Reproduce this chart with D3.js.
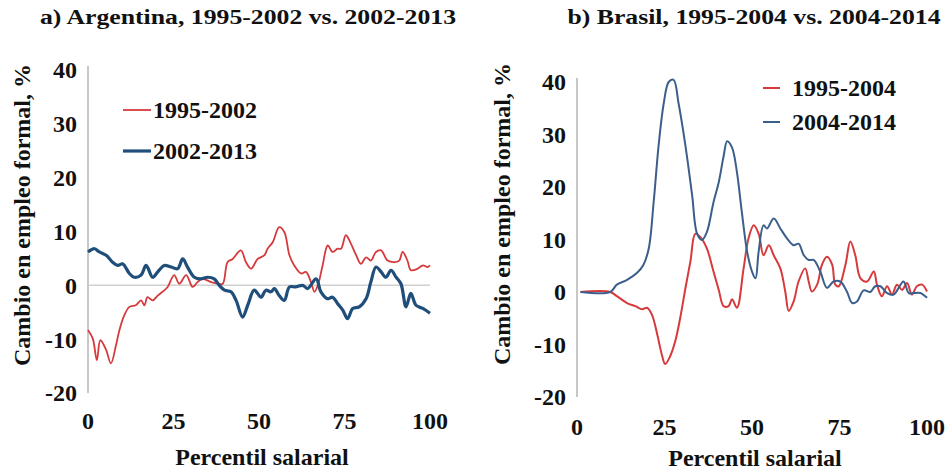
<!DOCTYPE html>
<html>
<head>
<meta charset="utf-8">
<script src="https://cdnjs.cloudflare.com/ajax/libs/d3/7.8.5/d3.min.js"></script>
<style>
  body{ margin:0; background:#fff; }
  svg text{ font-family:"Liberation Serif","Times New Roman",serif; font-weight:bold; fill:#111; }
</style>
</head>
<body>
<svg id="chart" width="950" height="470"></svg>
<script>
// percentile, change in formal employment (%)
var argPct1 = [0,1.4,2.6,3.6,5.3,6.7,8.2,9.2,10.6,12.1,14,15.5,16.5,17.4,18.9,20.4,21.8,23.3,25.2,26.7,28.7,30.6,32,33.5,36,37.9,39.4,40.8,42.3,44.7,46.2,47.7,49.6,51.6,52.5,54,55.9,57.4,58.9,60.3,62.3,63.7,65.2,66.2,67.2,68.6,70.1,71.5,73,74,75.4,76.9,78.4,79.8,81.3,82.7,84.2,85.7,87.6,89.6,91,92,93.4,94.4,96.4,97.9,99.3,100]
var arg9502 = [-8.3,-9.9,-13.9,-10.2,-12,-14.5,-11.1,-8.3,-5.6,-4,-3.7,-2.8,-3.7,-2.2,-2.8,-1.9,-1.2,-0.3,1.9,0.3,1.9,-0.3,0.6,1.2,0.6,0.3,0.3,4.3,4.9,6.5,4.3,3.1,4.9,5.6,6.8,8,10.8,9.9,5.6,3.7,2.2,2.5,0.6,-1.2,0,3.7,7.4,6.2,6.8,6.8,9.3,7.7,5.6,4,5.2,4.6,6.2,6.5,4.6,4.3,4.6,6.2,4.6,2.8,3.1,3.7,3.4,3.7]

var argPct2 = [0,1.9,3.3,5.3,7.2,8.7,10.1,12.1,13.5,15.5,17,18.9,20.4,22.3,24.3,26.2,27.7,29.1,31.1,33,35,36.9,38.4,39.9,41.8,43.3,45.2,46.7,48.6,50.6,52,53.5,54.5,55.9,57.4,58.9,60.8,62.8,64.2,66.7,68.1,70.1,71.5,73,74.5,75.9,77.4,79.3,81.3,82.7,84.2,85.7,87.1,88.6,90.1,91.5,93,94.4,95.9,97.9,100]
var arg0213 = [6.2,6.8,6.2,5.6,4.3,3.7,4,2.2,1.5,1.9,3.7,1.5,2.5,3.7,3.4,3.1,4.9,3.4,1.5,1.2,1.5,1.2,0,-0.9,-1.2,-2.8,-5.9,-3.7,-0.9,-2.2,-0.9,-1.2,-0.6,-1.9,-2.8,-0.3,-0.3,0,-0.6,1.2,-1.2,-2.5,-2.2,-3.4,-4.6,-6.2,-4.3,-4,-2.5,0.6,3.4,2.5,1.5,2.8,1.5,0.3,-4,-1.5,-3.7,-4.3,-5.2]

var braPct1 = [1,9.5,11.4,14.3,16.7,18.6,20,21.4,22.9,24.3,25.2,26.7,28.1,29.5,31,32.4,33.8,35.2,37.1,39,40.5,41.9,43.3,44.3,45.7,47.6,49,50.5,51.9,53.3,54.8,56.2,58.1,59.5,60.5,61.9,63.3,65.2,66.2,67.1,68.6,70,71.4,72.9,73.8,74.8,76.7,78.1,79.5,81,82.9,84.8,85.7,87.1,88.6,90,91.4,92.9,94.3,95.7,97.1,98.6,100]
var bra9504 = [0,0,-0.8,-2.1,-2.7,-3.3,-3,-4.3,-8,-12.1,-13.7,-12.1,-9.3,-4.9,0.8,5.8,11.1,10.5,8.3,3.9,0.4,-2.7,-2.7,-1.4,-3,4.5,10.2,12.7,11.1,7,8.9,7,4.5,0.1,-3.6,-1.8,2,4.5,2,0.1,1.4,5.2,6.7,5.2,1.4,1.1,5.2,9.6,7,2.6,2,3.9,1.4,-0.8,1.1,-0.5,1.4,0.4,1.7,-0.5,1.1,1.4,0.1]

var braPct2 = [1,9.5,11.4,14.3,17.1,19,20.5,21.9,23.3,24.8,26.2,27.6,29,31,32.9,34.3,35.7,37.1,39,40.5,41.9,42.9,44.3,45.7,47.1,48.6,50,51,51.9,53.3,54.3,56.2,58.1,60,61.9,63.3,64.8,66.2,67.6,69.5,71.4,73.3,75.2,77.1,78.6,80,81.9,83.8,85.2,86.7,88.6,90.5,91.9,93.3,94.8,96.2,98.1,100]
var bra0414 = [0,0,1.4,2.3,3.6,5.2,8.3,17.1,27.8,36,40,40.4,36,27.8,18.4,11.1,9.9,11.4,17.1,20.9,25.9,28.7,27.5,22.8,15.2,7.7,3.9,2.6,7.7,12.7,12.1,14,12.1,10.2,8.9,9.2,7,6.1,6.1,3.9,0.8,2,2,0.1,-2.1,-1.8,0.3,0,1.1,1.1,-0.2,-0.5,0.8,2,-0.2,-0.2,-0.2,-1.1]

var xTicks = [0,25,50,75,100]
var yTicks = [-20,-10,0,10,20,30,40]

var RED = "#d63a3c", BLUE_A = "#1f4e7a", BLUE_B = "#3b5f8c", AXIS_GREY = "#c8c8c8"

var svg = d3.select("#chart")

function zip(xs, ys){
  return xs.map(function(p, i){ return {p: p, v: ys[i]} })
}

function drawPanel(cfg){
  var g = svg.append("g")
  var x = d3.scaleLinear().domain([0,100]).range([cfg.left, cfg.right])
  var y = d3.scaleLinear().domain([-20,40]).range([cfg.bottom, cfg.top])

  // title is a bit wider than the font in the original, stretch it
  g.append("text")
    .attr("transform","translate(" + cfg.titleX + ",24) scale(1.17,1)")
    .attr("text-anchor","middle")
    .style("font-size","22px")
    .text(cfg.title)

  // vertical axis line
  g.append("line")
    .attr("x1", x(0)).attr("x2", x(0))
    .attr("y1", y(40) - 4).attr("y2", y(-20))
    .style("stroke", AXIS_GREY).style("stroke-width", 2)

  if(cfg.zeroLine){
    g.append("line")
      .attr("x1", x(0)).attr("x2", x(100))
      .attr("y1", y(0)).attr("y2", y(0))
      .style("stroke", "#d0d0d0").style("stroke-width", 1.5)
  }

  g.selectAll(".ytick")
    .data(yTicks)
  .enter().append("text")
    .attr("class","ytick")
    .attr("x", x(0) - 11)
    .attr("y", function(d){ return y(d) })
    .attr("dy","0.35em")
    .attr("text-anchor","end")
    .style("font-size","24px")
    .text(function(d){ return d })

  g.selectAll(".xtick")
    .data(xTicks)
  .enter().append("text")
    .attr("class","xtick")
    .attr("x", function(d){ return x(d) })
    .attr("y", cfg.xTickY)
    .attr("dy","0.35em")
    .attr("text-anchor","middle")
    .style("font-size","24px")
    .text(function(d){ return d })

  g.append("text")
    .attr("transform","translate(" + cfg.yTitleX + "," + cfg.yTitleY + ") rotate(-90)")
    .attr("text-anchor","middle")
    .attr("dy","0.35em")
    .style("font-size","24px")
    .text("Cambio en empleo formal, %")

  g.append("text")
    .attr("x", (x(0) + x(100))/2 + 3).attr("y", cfg.xTitleY)
    .attr("text-anchor","middle")
    .style("font-size","24px")
    .text("Percentil salarial")

  var line = d3.line()
    .x(function(d){ return x(d.p) })
    .y(function(d){ return y(d.v) })
    .curve(d3.curveCatmullRom.alpha(0.5))

  cfg.series.forEach(function(s){
    g.append("path")
      .datum(s.data)
      .attr("d", line)
      .style("fill","none")
      .style("stroke", s.color)
      .style("stroke-width", s.width)
      .style("stroke-linejoin","round")
  })

  // legend
  cfg.series.forEach(function(s, i){
    var ly = cfg.legendY + i*cfg.legendGap
    g.append("line")
      .attr("x1", cfg.legendX).attr("x2", cfg.legendX + cfg.legendLen)
      .attr("y1", ly).attr("y2", ly)
      .style("stroke", s.color).style("stroke-width", s.width)
    g.append("text")
      .attr("x", cfg.legendX + cfg.legendLen + cfg.legendPad)
      .attr("y", ly).attr("dy","0.35em")
      .style("font-size","24px")
      .text(s.name)
  })
}

drawPanel({
  title: "a) Argentina, 1995-2002 vs. 2002-2013", titleX: 248,
  left: 88, right: 430, top: 70, bottom: 393,
  zeroLine: true, xTickY: 421, xTitleY: 465,
  yTitleX: 22, yTitleY: 215,
  legendX: 123, legendY: 110, legendGap: 41, legendLen: 28, legendPad: 2,
  series: [
    {name: "1995-2002", data: zip(argPct1, arg9502), color: RED, width: 1.8},
    {name: "2002-2013", data: zip(argPct2, arg0213), color: BLUE_A, width: 3.2}
  ]
})

drawPanel({
  title: "b) Brasil, 1995-2004 vs. 2004-2014", titleX: 754,
  left: 577, right: 927, top: 82, bottom: 397,
  zeroLine: false, xTickY: 427, xTitleY: 466,
  yTitleX: 502, yTitleY: 214,
  legendX: 763, legendY: 88, legendGap: 34, legendLen: 17, legendPad: 12,
  series: [
    {name: "1995-2004", data: zip(braPct1, bra9504), color: RED, width: 2},
    {name: "2004-2014", data: zip(braPct2, bra0414), color: BLUE_B, width: 2}
  ]
})
</script>
</body>
</html>
